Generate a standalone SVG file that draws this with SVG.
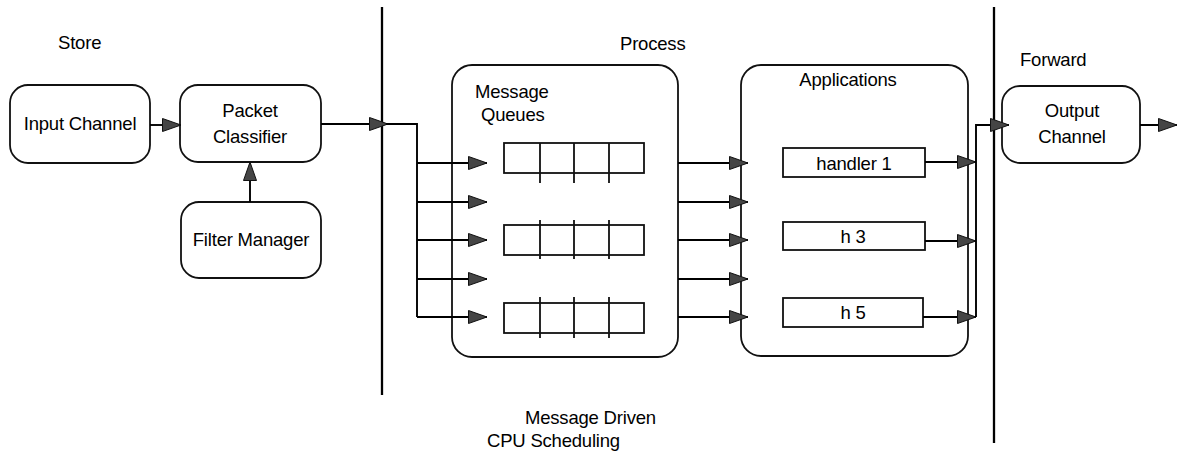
<svg xmlns="http://www.w3.org/2000/svg" width="1178" height="455" viewBox="0 0 1178 455">
  <defs>
    <marker id="arrow" markerUnits="userSpaceOnUse" markerWidth="22" markerHeight="18" refX="19" refY="7" orient="auto">
      <path d="M0.5,0.5 L19,7 L0.5,13.5 Z" fill="#454545" stroke="#111" stroke-width="1"/>
    </marker>
    <style>
      .box { fill: #fff; stroke: #111; stroke-width: 1.8; }
      .cell { fill: none; stroke: #111; stroke-width: 1.8; }
      .line { fill: none; stroke: #000; stroke-width: 1.9; }
      .arr { fill: none; stroke: #000; stroke-width: 1.9; marker-end: url(#arrow); }
      .divider { stroke: #000; stroke-width: 2.3; }
      text { font-family: "Liberation Sans", Arial, sans-serif; font-size: 18.5px; fill: #000; letter-spacing: -0.2px; }
      .c { text-anchor: middle; }
    </style>
  </defs>

  <rect width="1178" height="455" fill="#fff"/>

  <!-- stage dividers -->
  <g id="dividers">
    <line class="divider" x1="382" y1="7" x2="382" y2="395"/>
    <line class="divider" x1="994" y1="7" x2="994" y2="443"/>
  </g>

  <!-- stage labels -->
  <g id="labels">
    <text x="58" y="49">Store</text>
    <text x="620" y="50">Process</text>
    <text x="1020" y="66">Forward</text>
    <text x="525" y="424">Message Driven</text>
    <text x="487" y="447">CPU Scheduling</text>
  </g>

  <g id="input-channel">
    <rect class="box" x="10" y="85" width="140" height="78" rx="18"/>
    <text class="c" x="80" y="130">Input Channel</text>
  </g>

  <g id="packet-classifier">
    <rect class="box" x="180" y="85" width="141" height="77" rx="18"/>
    <text class="c" x="250" y="117">Packet</text>
    <text class="c" x="250" y="143">Classifier</text>
  </g>

  <g id="filter-manager">
    <rect class="box" x="181" y="202" width="140" height="76" rx="18"/>
    <text class="c" x="251" y="246">Filter Manager</text>
  </g>

  <g id="message-queues">
    <rect class="box" x="452" y="65" width="226" height="292" rx="20"/>
    <text x="475" y="98">Message</text>
    <text x="481" y="121">Queues</text>
    <!-- queue 1 -->
    <rect class="cell" x="504" y="143" width="140" height="30"/>
    <path class="cell" d="M540,143 V183 M574,143 V183 M609,143 V183"/>
    <!-- queue 2 -->
    <rect class="cell" x="504" y="225" width="140" height="30"/>
    <path class="cell" d="M540,220 V259 M574,220 V259 M609,220 V259"/>
    <!-- queue 3 -->
    <rect class="cell" x="504" y="303" width="140" height="30"/>
    <path class="cell" d="M540,297 V338 M574,297 V338 M609,297 V338"/>
  </g>

  <g id="applications">
    <rect class="box" x="741" y="65" width="227" height="291" rx="20"/>
    <text class="c" x="848" y="86">Applications</text>
  </g>

  <g id="handler-1">
    <rect class="cell" x="783" y="148" width="142" height="29"/>
    <text class="c" x="854" y="170">handler 1</text>
  </g>

  <g id="handler-3">
    <rect class="cell" x="783" y="222" width="142" height="28"/>
    <text class="c" x="853" y="243">h 3</text>
  </g>

  <g id="handler-5">
    <rect class="cell" x="783" y="298" width="140" height="29"/>
    <text class="c" x="853" y="319">h 5</text>
  </g>

  <g id="output-channel">
    <rect class="box" x="1002" y="86" width="138" height="77" rx="18"/>
    <text class="c" x="1072" y="117">Output</text>
    <text class="c" x="1072" y="143">Channel</text>
  </g>

  <g id="connectors">
    <line class="arr" x1="150" y1="125" x2="181" y2="125"/>
    <line class="arr" x1="250" y1="202" x2="250" y2="162"/>
    <!-- classifier out, across the divider, into the fan-out trunk -->
    <line class="arr" x1="321" y1="124" x2="388" y2="124"/>
    <path class="line" d="M386,124 H417 V317"/>
    <line class="arr" x1="417" y1="163" x2="487" y2="163"/>
    <line class="arr" x1="417" y1="202" x2="487" y2="202"/>
    <line class="arr" x1="417" y1="240" x2="487" y2="240"/>
    <line class="arr" x1="417" y1="279" x2="487" y2="279"/>
    <line class="arr" x1="417" y1="317" x2="487" y2="317"/>
    <!-- queues to applications -->
    <line class="arr" x1="678" y1="163" x2="748" y2="163"/>
    <line class="arr" x1="678" y1="202" x2="748" y2="202"/>
    <line class="arr" x1="678" y1="240" x2="748" y2="240"/>
    <line class="arr" x1="678" y1="279" x2="748" y2="279"/>
    <line class="arr" x1="678" y1="317" x2="748" y2="317"/>
    <!-- handlers into the collector -->
    <line class="arr" x1="925" y1="162" x2="976" y2="162"/>
    <line class="arr" x1="925" y1="241" x2="976" y2="241"/>
    <line class="arr" x1="923" y1="317" x2="976" y2="317"/>
    <path class="arr" d="M976,317 V125 H1009"/>
    <line class="arr" x1="1140" y1="125" x2="1177" y2="125"/>
  </g>
</svg>
